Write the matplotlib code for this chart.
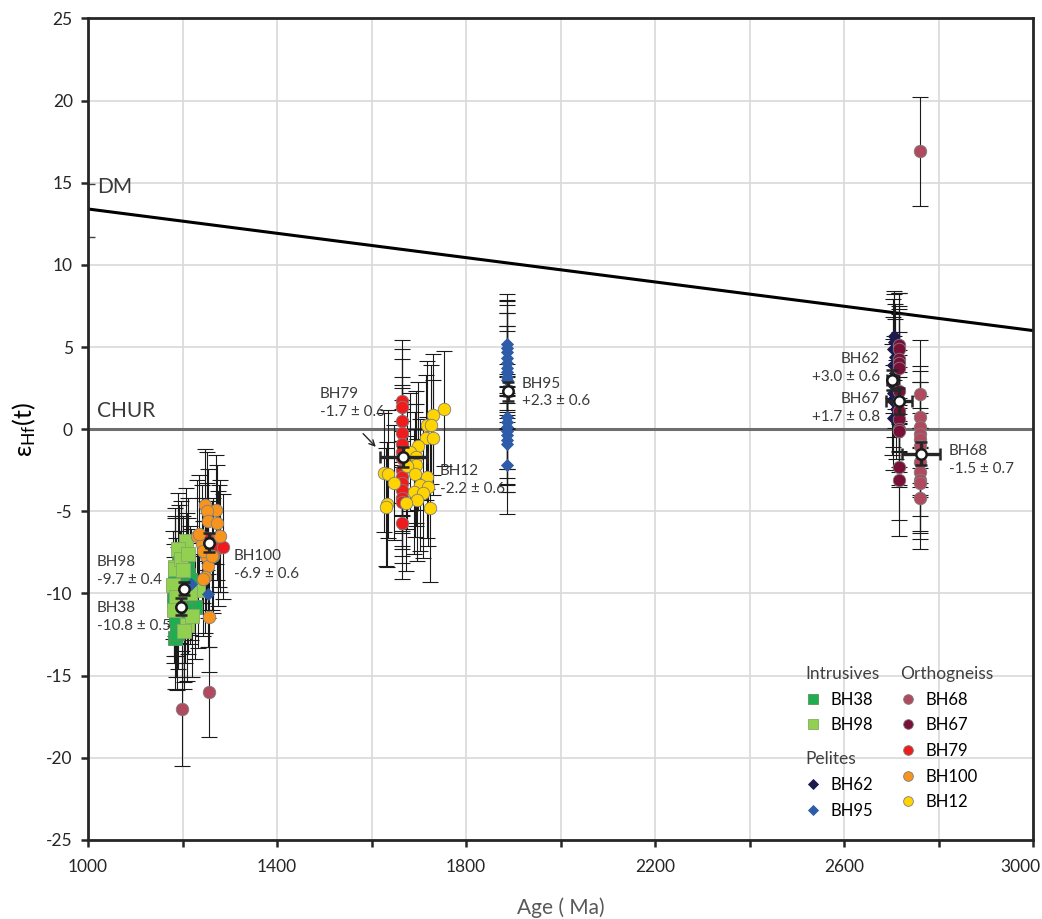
import matplotlib
matplotlib.use("Agg")
import matplotlib.pyplot as plt
import matplotlib.transforms as mtransforms
from matplotlib.lines import Line2D
from matplotlib.legend import Legend

plt.rcParams['font.family'] = ['Lato', 'DejaVu Sans']
plt.rcParams['mathtext.fontset'] = 'custom'
plt.rcParams['mathtext.rm'] = 'Lato'
plt.rcParams['mathtext.it'] = 'Lato:italic'
plt.rcParams['axes.unicode_minus'] = False

# ---- zircon Lu-Hf data: age (Ma), eHf(t), 2-sigma ----
bh38_age = [1209, 1211, 1184, 1226, 1182, 1198, 1186, 1202, 1183, 1212, 1195, 1190, 1205, 1188, 1215, 1193]
bh38_eps = [-8.4, -8.9, -9.0, -10.8, -10.4, -11.3, -11.6, -12.1, -12.7, -10.1, -9.6, -10.9, -11.0, -12.4, -9.2, -8.2]
bh38_err = [3.3, 3.5, 3.6, 3.2, 3.4, 3.8, 3.5, 3.3, 3.1, 3.6, 3.4, 3.7, 3.2, 3.5, 3.3, 3.6]

bh98_age = [1207, 1191, 1183, 1180, 1233, 1216, 1209, 1219, 1184, 1196, 1200, 1187, 1212, 1181, 1203]
bh98_eps = [-6.8, -7.3, -8.4, -9.5, -9.8, -10.0, -11.9, -11.4, -8.5, -7.9, -8.6, -10.2, -7.6, -11.0, -12.3]
bh98_err = [3.2, 3.4, 3.6, 3.3, 3.5, 3.1, 3.4, 3.7, 3.2, 3.5, 3.3, 3.6, 3.4, 3.2, 3.5]

bh62_age = [2706, 2704, 2708, 2703, 2707, 2705, 2702, 2709, 2704, 2706, 2703]
bh62_eps = [5.7, 4.9, 4.4, 3.9, 3.4, 2.6, 1.8, 1.2, 0.7, 5.3, 2.2]
bh62_err = [2.7, 3.0, 3.2, 2.9, 3.3, 3.1, 3.4, 3.0, 3.2, 2.9, 3.3]

bh95_age = [1886, 1886, 1886, 1886, 1886, 1886, 1886, 1886, 1886, 1886, 1886, 1886, 1886, 1886, 1886, 1886, 1886, 1217, 1253]
bh95_eps = [5.2, 4.95, 4.7, 4.35, 4.05, 3.75, 3.5, 3.2, 3.0, 0.75, 0.45, 0.15, -0.1, -0.35, -0.65, -0.9, -2.15, -9.45, -10.05]
bh95_err = [3.0, 2.9, 3.1, 3.2, 3.0, 3.3, 2.8, 3.1, 3.0, 3.2, 2.9, 3.1, 3.3, 3.0, 3.2, 2.9, 3.0, 3.4, 3.2]

bh68_age = [2761, 2761, 2761, 2761, 2761, 2761, 2761, 2761, 2761, 2761, 2761, 2761, 1198, 1255]
bh68_eps = [16.9, 2.15, 0.75, 0.15, -0.3, -0.6, -1.0, -2.0, -2.6, -3.1, -3.3, -4.2, -17.0, -16.0]
bh68_err = [3.3, 3.3, 3.1, 3.4, 3.2, 3.5, 3.0, 3.3, 3.6, 3.2, 3.4, 3.1, 3.5, 2.75]

bh67_age = [2716, 2716, 2716, 2716, 2716, 2716, 2716, 2716, 2716, 2716, 2716, 2716, 2716]
bh67_eps = [5.1, 4.9, 4.3, 4.0, 3.7, 2.3, 1.7, 1.1, 0.6, 0.0, -0.1, -2.3, -3.1]
bh67_err = [3.2, 3.4, 3.0, 3.5, 3.3, 3.6, 3.1, 3.4, 3.2, 3.5, 3.3, 3.2, 3.4]

bh79_age = [1665, 1665, 1665, 1665, 1665, 1665, 1665, 1665, 1665, 1665, 1665, 1665, 1665, 1665, 1251, 1276, 1285]
bh79_eps = [1.7, 1.35, 0.5, -0.25, -0.9, -1.4, -1.75, -2.5, -2.9, -3.3, -3.7, -4.2, -4.45, -5.7, -6.6, -7.25, -7.15]
bh79_err = [3.7, 3.5, 3.8, 3.4, 3.6, 3.9, 3.5, 3.7, 3.4, 3.8, 3.6, 3.5, 3.7, 3.4, 3.3, 3.5, 3.2]

bh100_age = [1248, 1270, 1251, 1253, 1272, 1231, 1277, 1241, 1250, 1265, 1253, 1248, 1255, 1234, 1244, 1244, 1263, 1279]
bh100_eps = [-4.6, -4.9, -5.0, -5.6, -5.7, -6.5, -6.5, -7.0, -7.7, -7.7, -8.3, -9.0, -11.45, -6.4, -7.4, -9.1, -7.7, -6.5]
bh100_err = [3.4, 3.3, 3.6, 3.2, 3.5, 3.4, 3.1, 3.6, 3.3, 3.5, 3.2, 3.4, 3.3, 3.6, 3.2, 3.5, 3.3, 3.4]

bh12_age = [1753, 1731, 1717, 1725, 1715, 1729, 1699, 1682, 1693, 1694, 1675, 1627, 1634, 1718, 1692,
            1648, 1703, 1719, 1689, 1708, 1696, 1724, 1632, 1631, 1673]
bh12_eps = [1.24, 0.89, 0.24, 0.28, -0.53, -0.53, -1.03, -1.38, -1.68, -2.19, -2.25, -2.64, -2.74, -2.94, -2.74,
            -3.27, -3.41, -3.51, -3.81, -3.91, -4.32, -4.82, -4.56, -4.73, -4.52]
bh12_err = [3.5, 3.7, 3.9, 3.6, 3.8, 3.5, 3.9, 3.6, 4.0, 3.7, 3.8, 3.6, 3.9, 3.7, 3.8,
            3.5, 4.0, 3.6, 3.8, 3.9, 3.7, 4.5, 3.8, 3.6, 4.1]

# plotted sample means: age, age error, eHf, eHf error
mean_names = ['BH38', 'BH98', 'BH100', 'BH79', 'BH95', 'BH62', 'BH67', 'BH68']
mean_age = [1196, 1203, 1256, 1667, 1888, 2701, 2716, 2762]
mean_age_err = [4, 4, 6, 50, 8, 10, 28, 40]
mean_eps = [-10.8, -9.7, -6.9, -1.7, 2.3, 3.0, 1.7, -1.5]
mean_eps_err = [0.5, 0.4, 0.6, 0.6, 0.6, 0.6, 0.8, 0.7]

# reference evolution lines
dm_age = [1000, 3000]
dm_eps = [13.4, 6.0]
dm_start_err = 1.6
chur_age = [1000, 3000]
chur_eps = [0, 0]

x_ticks = [1000, 1200, 1400, 1600, 1800, 2000, 2200, 2400, 2600, 2800, 3000]
x_ticklabels = ['1000', '', '1400', '', '1800', '', '2200', '', '2600', '', '3000']
y_ticks = [-25, -20, -15, -10, -5, 0, 5, 10, 15, 20, 25]

series = [
    # name, ages, eps, err, marker, face, edge, size
    ('BH38', bh38_age, bh38_eps, bh38_err, 's', '#1fae4f', '#5e8f5e', 9.5),
    ('BH98', bh98_age, bh98_eps, bh98_err, 's', '#92d050', '#86a86a', 9.5),
    ('BH62', bh62_age, bh62_eps, bh62_err, 'D', '#1c1a4e', '#1c1a4e', 6.5),
    ('BH95', bh95_age, bh95_eps, bh95_err, 'D', '#2e5ca8', '#2e5ca8', 6.5),
    ('BH68', bh68_age, bh68_eps, bh68_err, 'o', '#b04a5e', '#7f7f7f', 9),
    ('BH67', bh67_age, bh67_eps, bh67_err, 'o', '#7a0f38', '#7f7f7f', 9),
    ('BH79', bh79_age, bh79_eps, bh79_err, 'o', '#ee1c1c', '#7f7f7f', 9),
    ('BH100', bh100_age, bh100_eps, bh100_err, 'o', '#f7941d', '#7f7f7f', 9),
    ('BH12', bh12_age, bh12_eps, bh12_err, 'o', '#ffd400', '#7f7f7f', 9),
]

fig = plt.figure(figsize=(10.42, 9.19), dpi=100)
ax = fig.add_axes([0.0845, 0.086, 0.907, 0.894])

ax.set_xlim(1000, 3000)
ax.set_ylim(-25, 25)
ax.set_xticks(x_ticks)
ax.set_xticklabels(x_ticklabels)
ax.set_yticks(y_ticks)
ax.grid(True, color='#d9d9d9', linewidth=1.2, zorder=0)
ax.set_axisbelow(True)
for s in ax.spines.values():
    s.set_linewidth(2.0)
    s.set_color('#262626')
ax.tick_params(axis='both', direction='out', length=5, width=1.8, color='#262626',
               labelsize=12.5, labelcolor='#262626', pad=6)
ax.tick_params(axis='x', pad=9)
# keep the last age label inside the figure
last = ax.get_xticklabels()[-1]
last.set_transform(last.get_transform() + mtransforms.ScaledTranslation(-13 / 100, 0, fig.dpi_scale_trans))

# CHUR and depleted mantle
ax.plot(chur_age, chur_eps, color='#6e6e6e', linewidth=2.2, zorder=1.5)
ax.plot(dm_age, dm_eps, color='black', linewidth=2.2, zorder=1.6, solid_capstyle='butt')
ax.errorbar([dm_age[0]], [dm_eps[0] - 0.1], yerr=[dm_start_err], fmt='none', ecolor='#404040',
            elinewidth=1.0, capsize=5, zorder=1.7)

# individual analyses: error bars first, then symbols on top
for name, ages, eps, err, mk, fc, ec, ms in series:
    ax.errorbar(ages, eps, yerr=err, fmt='none', ecolor='#1a1a1a', elinewidth=0.8,
                capsize=6, capthick=0.8, zorder=2)
for name, ages, eps, err, mk, fc, ec, ms in series:
    ax.plot(ages, eps, linestyle='none', marker=mk, markersize=ms, markerfacecolor=fc,
            markeredgecolor=ec, markeredgewidth=0.6, zorder=3)

# weighted means
ax.errorbar(mean_age, mean_eps, xerr=mean_age_err, yerr=mean_eps_err, fmt='o', markersize=7.5,
            markerfacecolor='white', markeredgecolor='#1a1a1a', markeredgewidth=1.8,
            ecolor='#262626', elinewidth=2.4, capsize=4.5, capthick=2.4, zorder=5)

tc = '#3a3a3a'
fs = 11
ax.text(1019, 14.1, 'DM', fontsize=15, color=tc, va='bottom', ha='left')
ax.text(1019, 0.5, 'CHUR', fontsize=15, color=tc, va='bottom', ha='left')
ax.text(1019, -7.65, 'BH98\n-9.7 ± 0.4', fontsize=fs, color=tc, va='top', ha='left', linespacing=1.35)
ax.text(1019, -10.45, 'BH38\n-10.8 ± 0.5', fontsize=fs, color=tc, va='top', ha='left', linespacing=1.35)
ax.text(1309, -7.3, 'BH100\n-6.9 ± 0.6', fontsize=fs, color=tc, va='top', ha='left', linespacing=1.35)
ax.text(1490, 2.55, 'BH79\n-1.7 ± 0.6', fontsize=fs, color=tc, va='top', ha='left', linespacing=1.35)
ax.text(1745, -2.1, 'BH12\n-2.2 ± 0.6', fontsize=fs, color=tc, va='top', ha='left', linespacing=1.35)
ax.text(1918, 3.2, 'BH95\n+2.3 ± 0.6', fontsize=fs, color=tc, va='top', ha='left', linespacing=1.35)
ax.text(2676, 4.7, 'BH62\n+3.0 ± 0.6', fontsize=fs, color=tc, va='top', ha='right', linespacing=1.35)
ax.text(2676, 2.25, 'BH67\n+1.7 ± 0.8', fontsize=fs, color=tc, va='top', ha='right', linespacing=1.35)
ax.text(2822, -0.9, 'BH68\n-1.5 ± 0.7', fontsize=fs, color=tc, va='top', ha='left', linespacing=1.35)
ax.annotate('', xy=(1613, -1.2), xytext=(1578, -0.15),
            arrowprops=dict(arrowstyle='->', color='#262626', lw=1.0), zorder=6)

ax.set_xlabel('Age ( Ma)', fontsize=15, color='#595959', labelpad=16)
ax.set_ylabel(r'$\mathregular{ε_{Hf}}$(t)', fontsize=18, color='black', labelpad=6)


def handle(mk, fc, ec, ms):
    return Line2D([], [], linestyle='none', marker=mk, markersize=ms, markerfacecolor=fc,
                  markeredgecolor=ec, markeredgewidth=0.6)


style = {s[0]: (s[4], s[5], s[6]) for s in series}
leg_kw = dict(frameon=False, fontsize=12, title_fontsize=12.5, alignment='left',
              handlelength=0.9, handletextpad=0.6, labelspacing=0.58, borderpad=0.2,
              borderaxespad=0.0, loc='upper left')

groups = [
    ('Intrusives', ['BH38', 'BH98'], (0.756, 0.216)),
    ('Pelites', ['BH62', 'BH95'], (0.756, 0.112)),
    ('Orthogneiss', ['BH68', 'BH67', 'BH79', 'BH100', 'BH12'], (0.856, 0.216)),
]
for title, names, anchor in groups:
    hs = [handle(style[n][0], style[n][1], style[n][2], 7 if style[n][0] != 'D' else 5.5) for n in names]
    lg = Legend(ax, hs, names, title=title, bbox_to_anchor=anchor, **leg_kw)
    lg.get_title().set_color('#404040')
    ax.add_artist(lg)

fig.savefig('out.png', dpi=100)
